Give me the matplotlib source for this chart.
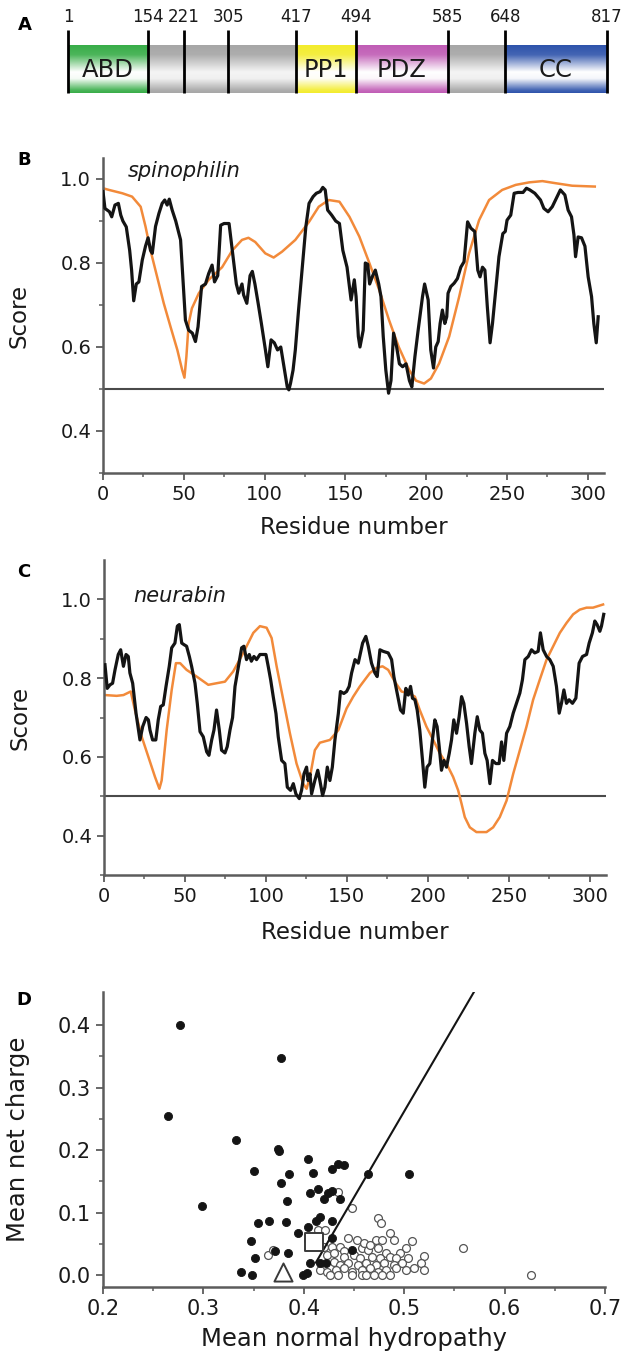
import numpy as np
import matplotlib
matplotlib.use("Agg")
import matplotlib.pyplot as plt
from matplotlib.colors import to_rgb

plt.rcParams['font.family'] = ['DejaVu Sans']

# ---------------- Panel A data ----------------
domain_numbers = ['1', '154', '221', '305', '417', '494', '585', '648', '817']
boundary_pos = [0.0, 0.148, 0.215, 0.297, 0.423, 0.534, 0.705, 0.811, 1.0]  # schematic
segment_labels = ['ABD', '', '', '', 'PP1', 'PDZ', '', 'CC']
segment_colors = ['#38ad48', '#a6a6a6', '#a6a6a6', '#a6a6a6',
                  '#f3ec2c', '#c05cb5', '#a6a6a6', '#2e53ab']

# ---------------- Panel B data (spinophilin) ----------------
spin_black_r = [0, 1.2, 4, 5.4, 7.4, 9.5, 11, 12.3, 14.4, 16.5, 17.7, 19, 20.6, 22.2, 24.3,
                26.3, 27.9, 29.4, 30.5, 32.5, 34.6, 36.6, 38.2, 39.7, 41, 42.8, 45, 48, 49.4,
                51, 53, 55.3, 57.2, 58.8, 61, 63.4, 65.4, 67.5, 69, 71, 72.8, 74.9, 78, 80,
                82.5, 84, 86, 87, 89, 91, 92.4, 94, 96, 98, 100.5, 102, 104, 106, 108, 110,
                112, 114, 115, 116, 117.6, 119, 121, 123.7, 125.5, 127.5, 130, 132, 134.4,
                136, 137.5, 139, 141.5, 144, 146.3, 148.4, 151, 153.5, 155.5, 156.6, 158,
                159, 161, 162.3, 163.8, 165, 166.9, 168.5, 170.6, 172, 173.4, 175, 176.7,
                178.2, 179.8, 181.7, 183.4, 185.4, 187.5, 189.6, 191.1, 193, 195, 197.7, 199,
                201.2, 202.8, 204.5, 205.9, 207.4, 208.6, 210, 211.5, 212.7, 213.5, 215.2,
                217.3, 219.3, 221.4, 223.4, 225.6, 227.6, 230, 231.9, 233.3, 234.8, 236.3,
                237.8, 239.5, 241, 243, 245, 247.4, 248.9, 250, 252.3, 254.4, 256.8, 259.9,
                262, 264.1, 267.2, 270.7, 272.8, 275.4, 278, 281, 283, 285.8, 287.8, 289.9,
                291.4, 292.4, 294, 296.1, 298.2, 300.2, 302.3, 303.7, 305.2, 306.4]
spin_black_v = [0.97, 0.93, 0.922, 0.91, 0.938, 0.942, 0.914, 0.90, 0.886, 0.83, 0.783, 0.71,
                0.75, 0.755, 0.807, 0.84, 0.86, 0.83, 0.823, 0.887, 0.918, 0.942, 0.95, 0.938,
                0.952, 0.926, 0.90, 0.855, 0.767, 0.664, 0.64, 0.633, 0.613, 0.648, 0.744,
                0.75, 0.775, 0.795, 0.755, 0.77, 0.89, 0.894, 0.894, 0.83, 0.75, 0.728, 0.75,
                0.724, 0.704, 0.77, 0.78, 0.75, 0.704, 0.656, 0.593, 0.553, 0.617, 0.61,
                0.593, 0.60, 0.553, 0.505, 0.498, 0.513, 0.545, 0.593, 0.688, 0.807, 0.886,
                0.942, 0.958, 0.966, 0.97, 0.98, 0.974, 0.926, 0.914, 0.90, 0.894, 0.83,
                0.79, 0.712, 0.76, 0.72, 0.625, 0.60, 0.64, 0.80, 0.797, 0.75, 0.77, 0.783,
                0.75, 0.72, 0.625, 0.545, 0.49, 0.52, 0.633, 0.60, 0.56, 0.553, 0.56, 0.52,
                0.505, 0.577, 0.64, 0.72, 0.75, 0.712, 0.593, 0.55, 0.60, 0.613, 0.656, 0.688,
                0.656, 0.672, 0.728, 0.744, 0.752, 0.763, 0.79, 0.803, 0.898, 0.883, 0.875,
                0.783, 0.767, 0.79, 0.783, 0.696, 0.61, 0.656, 0.736, 0.815, 0.87, 0.875,
                0.902, 0.914, 0.966, 0.968, 0.968, 0.978, 0.974, 0.966, 0.95, 0.93, 0.922,
                0.934, 0.958, 0.974, 0.962, 0.926, 0.91, 0.867, 0.815, 0.862, 0.86, 0.84,
                0.767, 0.72, 0.656, 0.61, 0.672]
spin_orange_r = [0, 3.7, 12, 18, 23.3, 26.3, 29.4, 33.5, 37.6, 41.8, 46, 49, 50.4, 51.6, 53,
                 55, 59.3, 65.4, 73.7, 80, 86, 90, 94.2, 100.4, 105.6, 110.8, 119, 127.5,
                 133.5, 139.7, 146.3, 152.5, 158.6, 164.8, 170.9, 177, 183, 189.5, 193.6,
                 198.7, 202.9, 208, 214.2, 220.4, 226.5, 232.7, 238.9, 247, 255.4, 263.7,
                 271.9, 280, 290.3, 304.3]
spin_orange_v = [0.978, 0.974, 0.966, 0.958, 0.934, 0.887, 0.83, 0.767, 0.704, 0.648, 0.593,
                 0.545, 0.527, 0.577, 0.656, 0.692, 0.728, 0.76, 0.79, 0.83, 0.855, 0.86,
                 0.85, 0.823, 0.813, 0.827, 0.855, 0.898, 0.934, 0.95, 0.946, 0.91, 0.863,
                 0.80, 0.736, 0.664, 0.60, 0.545, 0.52, 0.513, 0.525, 0.561, 0.625, 0.72,
                 0.823, 0.902, 0.95, 0.974, 0.986, 0.992, 0.995, 0.99, 0.984, 0.982]

# ---------------- Panel C data (neurabin) ----------------
neur_black_r = [0.6, 2, 3.7, 5.3, 6.8, 8.8, 10.3, 12, 13.6, 15, 16, 17.7, 19.8, 22.2, 23.9, 26,
                27.4, 28.4, 30, 32, 33.5, 35, 36.6, 38.3, 40.3, 41.8, 43.8, 45.3, 46.5, 48,
                49.4, 51, 52.7, 54.1, 56.2, 57.6, 59.3, 61.3, 63.4, 64.8, 66.5, 67.9, 69.5,
                71.2, 72.6, 74.7, 76.1, 77.8, 79.4, 80.9, 83, 85, 86.4, 88, 89.7, 91, 92.6,
                94.2, 96.3, 100, 101.4, 102.9, 104.5, 106.2, 107.6, 109.7, 111.7, 113.2,
                115.2, 116.9, 118.5, 120.6, 122, 123.5, 125.1, 126, 127.2, 128.2, 130.2, 132,
                133.3, 135, 136.4, 137.9, 139.5, 141, 142.6, 144.7, 146, 148.1, 149.8, 151.4,
                152.9, 155, 157, 159.7, 161.7, 163.2, 165.2, 167.3, 168.7, 170.4, 172.4,
                175.5, 177.6, 179, 181, 183.1, 184.8, 186.4, 187.9, 189.3, 190.5, 192, 193.4,
                195, 196.7, 198.1, 199.5, 201.2, 202.8, 204.3, 205.7, 207, 208.4, 209.9,
                211.5, 213.2, 214.6, 216, 217.7, 219.3, 220.8, 222.2, 223.9, 225.5, 226.9,
                229, 230.5, 232.1, 233.7, 235.2, 236.6, 238.3, 239.9, 242, 244, 245.5, 246.9,
                248.6, 250.6, 252.7, 254.7, 256.8, 258.4, 259.9, 262, 264, 266, 268.1, 269.5,
                271.2, 273.3, 275.3, 277.4, 279.4, 281.1, 282.5, 284, 285.6, 287.2, 289.3,
                291.4, 293.4, 295.5, 298, 299.6, 301.6, 303.1, 304.5, 306.2, 307.2, 308.6]
neur_black_v = [0.834, 0.774, 0.783, 0.787, 0.821, 0.86, 0.872, 0.83, 0.86, 0.855, 0.813,
                0.787, 0.71, 0.643, 0.677, 0.70, 0.694, 0.668, 0.643, 0.643, 0.694, 0.728,
                0.732, 0.779, 0.83, 0.877, 0.889, 0.932, 0.936, 0.889, 0.885, 0.881, 0.855,
                0.83, 0.787, 0.736, 0.664, 0.651, 0.613, 0.604, 0.643, 0.668, 0.719, 0.668,
                0.617, 0.61, 0.626, 0.668, 0.70, 0.779, 0.83, 0.877, 0.881, 0.847, 0.86,
                0.843, 0.855, 0.847, 0.86, 0.86, 0.83, 0.796, 0.753, 0.71, 0.651, 0.591,
                0.583, 0.523, 0.515, 0.532, 0.506, 0.494, 0.515, 0.557, 0.574, 0.54, 0.557,
                0.506, 0.54, 0.566, 0.54, 0.502, 0.523, 0.574, 0.54, 0.574, 0.643, 0.71,
                0.766, 0.761, 0.766, 0.779, 0.813, 0.847, 0.838, 0.889, 0.906, 0.881, 0.838,
                0.813, 0.804, 0.872, 0.868, 0.864, 0.847, 0.804, 0.762, 0.719, 0.711, 0.774,
                0.757, 0.779, 0.749, 0.745, 0.719, 0.668, 0.591, 0.523, 0.574, 0.583, 0.643,
                0.694, 0.677, 0.626, 0.566, 0.591, 0.574, 0.609, 0.643, 0.694, 0.66, 0.702,
                0.753, 0.736, 0.685, 0.626, 0.583, 0.66, 0.702, 0.668, 0.66, 0.609, 0.591,
                0.532, 0.591, 0.583, 0.583, 0.638, 0.591, 0.66, 0.677, 0.711, 0.736, 0.762,
                0.796, 0.847, 0.855, 0.872, 0.864, 0.868, 0.915, 0.872, 0.855, 0.847, 0.83,
                0.779, 0.711, 0.736, 0.77, 0.736, 0.745, 0.736, 0.749, 0.838, 0.855, 0.86,
                0.889, 0.915, 0.945, 0.936, 0.919, 0.932, 0.962]
neur_orange_r = [0.6, 7.8, 12, 16.5, 19.1, 23.3, 27.4, 31.5, 34.2, 35.6, 38.7, 41.8, 44.4, 47,
                 51, 57.2, 64.4, 69.5, 74.7, 79.8, 86, 92.2, 96.3, 100.4, 103.5, 106.6,
                 110.7, 114.8, 118.9, 123, 125.1, 127.2, 130.2, 133.3, 139.5, 144.7, 149.8,
                 153.9, 158, 164.2, 168.3, 172, 175.5, 179.6, 183.7, 187.9, 192, 195, 199.1,
                 203.3, 207.4, 211.5, 215.6, 218.7, 220.8, 222.8, 225.9, 230, 236.2, 240.3,
                 244.4, 248.6, 252.7, 256.8, 260.9, 265, 269.1, 273.3, 277.4, 281.5, 285.6,
                 289.7, 293.8, 298, 302, 308.2]
neur_orange_v = [0.757, 0.755, 0.757, 0.766, 0.719, 0.651, 0.60, 0.549, 0.519, 0.54, 0.668,
                 0.77, 0.838, 0.838, 0.821, 0.804, 0.783, 0.787, 0.791, 0.817, 0.864, 0.915,
                 0.932, 0.928, 0.902, 0.83, 0.745, 0.66, 0.583, 0.532, 0.519, 0.549, 0.617,
                 0.636, 0.643, 0.668, 0.723, 0.753, 0.779, 0.813, 0.826, 0.83, 0.821, 0.791,
                 0.766, 0.762, 0.753, 0.719, 0.677, 0.643, 0.609, 0.583, 0.549, 0.515, 0.481,
                 0.447, 0.421, 0.409, 0.409, 0.421, 0.447, 0.489, 0.557, 0.617, 0.677, 0.745,
                 0.796, 0.847, 0.881, 0.915, 0.94, 0.962, 0.974, 0.979, 0.979, 0.987]

# ---------------- Panel D data ----------------
filled_h = [0.277, 0.377, 0.265, 0.332, 0.374, 0.375, 0.299, 0.350, 0.4045, 0.3855, 0.4094,
            0.4284, 0.4345, 0.4396, 0.4644, 0.5048, 0.377, 0.4057, 0.4145, 0.4245, 0.4276,
            0.4205, 0.4356, 0.3837, 0.3545, 0.365, 0.3825, 0.4117, 0.4157, 0.4276, 0.3945,
            0.4037, 0.347, 0.3518, 0.3717, 0.3845, 0.4037, 0.4276, 0.337, 0.348, 0.3997,
            0.403, 0.4057, 0.4157, 0.4217, 0.4476]
filled_c = [0.400, 0.348, 0.254, 0.2155, 0.202, 0.199, 0.111, 0.167, 0.1856, 0.1615, 0.163,
            0.170, 0.178, 0.1765, 0.1615, 0.1615, 0.147, 0.131, 0.138, 0.131, 0.134,
            0.1214, 0.1214, 0.1187, 0.084, 0.087, 0.0845, 0.087, 0.0936, 0.087, 0.0668,
            0.0765, 0.055, 0.0278, 0.0385, 0.0348, 0.056, 0.0588, 0.0053, 0.0, 0.0,
            0.004, 0.0187, 0.0187, 0.0187, 0.040]
open_h = [0.3646, 0.3697, 0.4337, 0.4476, 0.4736, 0.4768, 0.4856, 0.5582, 0.6265,
          0.4145, 0.4216, 0.4436, 0.4528, 0.4716, 0.4776, 0.4896, 0.5075,
          0.4356, 0.4576, 0.4636, 0.4736, 0.4816, 0.5016, 0.5195,
          0.4197, 0.4276, 0.4396, 0.4596, 0.4656, 0.4955,
          0.4236, 0.4296, 0.4396, 0.4496, 0.4556, 0.4676, 0.4756, 0.4856, 0.4915, 0.5036,
          0.4296, 0.4356, 0.4436, 0.4536, 0.4616, 0.4716, 0.4796, 0.4896, 0.4975, 0.517,
          0.4157, 0.4236, 0.4316, 0.4396, 0.4476, 0.4576, 0.4656, 0.4736, 0.4816, 0.4915,
          0.5016, 0.5095, 0.5195,
          0.4256, 0.4337, 0.4476, 0.4576, 0.4616, 0.4696, 0.4776, 0.4856]
open_c = [0.033, 0.041, 0.133, 0.107, 0.091, 0.083, 0.068, 0.0438, 0.0,
          0.072, 0.072, 0.060, 0.056, 0.056, 0.056, 0.056, 0.055,
          0.0455, 0.0428, 0.040, 0.0428, 0.0348, 0.0428, 0.031,
          0.0455, 0.0455, 0.038, 0.0508, 0.048, 0.0348,
          0.032, 0.0348, 0.0294, 0.032, 0.0267, 0.0294, 0.0267, 0.0294, 0.0267, 0.0267,
          0.0214, 0.016, 0.0187, 0.016, 0.0187, 0.016, 0.0187, 0.016, 0.0187, 0.0187,
          0.008, 0.0053, 0.008, 0.0107, 0.0053, 0.008, 0.0107, 0.0053, 0.008, 0.0107,
          0.008, 0.0107, 0.009,
          0.0, 0.0, 0.0, 0.0, 0.0, 0.0, 0.0, 0.0]
square_pt = (0.4097, 0.0524)
triangle_pt = (0.379, 0.005)
boundary_h = [0.412, 0.572]
boundary_c = [0.020, 0.460]

# ---------------- Figure ----------------
W, H = 623, 1357
fig = plt.figure(figsize=(W / 100, H / 100), dpi=100)


def frac(left, top, right, bottom):
    return [left / W, 1 - bottom / H, (right - left) / W, (bottom - top) / H]


SPINE = '#5c5c5c'
BLACK = '#141414'
ORANGE = '#f28a3a'

# ---- Panel A ----
axA = fig.add_axes(frac(68, 30, 607, 93))
axA.set_xlim(0, 1)
axA.set_ylim(0, 1)
axA.axis('off')
bar_top = 0.76
t = np.linspace(0, 1, 200)
w = np.interp(t, [0, 0.06, 0.3, 0.44, 0.8, 1.0], [1, 0.9, 0.05, 0.0, 0.9, 1.0])
for i, col in enumerate(segment_colors):
    base = np.array(to_rgb(col))
    light = np.array(to_rgb('#f4f4f4')) if col == '#a6a6a6' else np.ones(3)
    grad = (w[:, None] * base[None, :] + (1 - w[:, None]) * light[None, :])[:, None, :]
    axA.imshow(grad, extent=(boundary_pos[i], boundary_pos[i + 1], 0, bar_top),
               origin='lower', aspect='auto', interpolation='bilinear')
    if segment_labels[i]:
        axA.text((boundary_pos[i] + boundary_pos[i + 1]) / 2, 0.36, segment_labels[i],
                 ha='center', va='center', fontsize=17.5, color='#1a1a1a')
axA.vlines(boundary_pos, 0, 1, colors='black', lw=2, clip_on=False)
for p, lab in zip(boundary_pos, domain_numbers):
    axA.text(p, 1.06, lab, ha='center', va='bottom', fontsize=12, color='#1a1a1a')
axA.set_xlim(0, 1)
axA.set_ylim(0, 1)
fig.text(25 / W, 1 - 25 / H, 'A', fontsize=13, fontweight='bold', ha='center', va='center')


def style_axes(ax, tick_fs):
    for s in ['top', 'right']:
        ax.spines[s].set_visible(False)
    for s in ['left', 'bottom']:
        ax.spines[s].set_color(SPINE)
        ax.spines[s].set_linewidth(1.8)
    ax.tick_params(which='major', length=5, width=1.3, color=SPINE, labelsize=tick_fs,
                   labelcolor='#1a1a1a')
    ax.tick_params(which='minor', length=3, width=1.1, color=SPINE)


# ---- Panel B ----
axB = fig.add_axes(frac(103, 158, 604, 473))
axB.plot(spin_orange_r, spin_orange_v, color=ORANGE, lw=1.8, zorder=2)
axB.plot(spin_black_r, spin_black_v, color=BLACK, lw=2.3, zorder=3)
axB.axhline(0.5, color='#4a4a4a', lw=1.5, zorder=1)
axB.set_xlim(0, 310)
axB.set_ylim(0.3, 1.05)
axB.set_xticks(range(0, 301, 50))
axB.set_xticks(range(25, 301, 50), minor=True)
axB.set_yticks([0.4, 0.6, 0.8, 1.0])
axB.set_yticks([0.3, 0.5, 0.7, 0.9], minor=True)
axB.set_yticklabels(['0.4', '0.6', '0.8', '1.0'])
style_axes(axB, 14)
axB.set_xlabel('Residue number', fontsize=16.5, color='#1a1a1a', labelpad=9)
axB.set_ylabel('Score', fontsize=16.5, color='#1a1a1a')
axB.yaxis.set_label_coords(-0.145, 0.5)
axB.text(15.5, 1.02, 'spinophilin', fontsize=15, style='italic', va='center', color='#1a1a1a')
fig.text(24 / W, 1 - 160 / H, 'B', fontsize=13, fontweight='bold', ha='center', va='center')

# ---- Panel C ----
axC = fig.add_axes(frac(104, 560, 606, 875))
axC.plot(neur_orange_r, neur_orange_v, color=ORANGE, lw=1.8, zorder=2)
axC.plot(neur_black_r, neur_black_v, color=BLACK, lw=2.3, zorder=3)
axC.axhline(0.5, color='#4a4a4a', lw=1.5, zorder=1)
axC.set_xlim(0, 310)
axC.set_ylim(0.3, 1.1)
axC.set_xticks(range(0, 301, 50))
axC.set_xticks(range(25, 301, 50), minor=True)
axC.set_yticks([0.4, 0.6, 0.8, 1.0])
axC.set_yticks([0.3, 0.5, 0.7, 0.9], minor=True)
axC.set_yticklabels(['0.4', '0.6', '0.8', '1.0'])
style_axes(axC, 14)
axC.set_xlabel('Residue number', fontsize=16.5, color='#1a1a1a', labelpad=11)
axC.set_ylabel('Score', fontsize=16.5, color='#1a1a1a')
axC.yaxis.set_label_coords(-0.145, 0.5)
axC.text(18, 1.008, 'neurabin', fontsize=15, style='italic', va='center', color='#1a1a1a')
fig.text(24 / W, 1 - 572 / H, 'C', fontsize=13, fontweight='bold', ha='center', va='center')

# ---- Panel D ----
axD = fig.add_axes(frac(103, 992, 605, 1287))
axD.scatter(open_h, open_c, s=32, facecolors='white', edgecolors='#555555',
            linewidths=0.9, zorder=2)
axD.scatter(filled_h, filled_c, s=34, facecolors=BLACK, edgecolors=BLACK,
            linewidths=0.6, zorder=3)
axD.plot(boundary_h, boundary_c, color=BLACK, lw=1.5, zorder=4)
axD.scatter([square_pt[0]], [square_pt[1]], marker='s', s=150, facecolors='white',
            edgecolors='#3a3a3a', linewidths=1.4, zorder=5)
axD.scatter([triangle_pt[0]], [triangle_pt[1]], marker='^', s=170, facecolors='white',
            edgecolors='#3a3a3a', linewidths=1.4, zorder=5)
axD.set_xlim(0.2, 0.7)
axD.set_ylim(-0.019, 0.453)
axD.set_xticks([0.2, 0.3, 0.4, 0.5, 0.6, 0.7])
axD.set_xticklabels(['0.2', '0.3', '0.4', '0.5', '0.6', '0.7'])
axD.set_xticks([0.25, 0.35, 0.45, 0.55, 0.65], minor=True)
axD.set_yticks([0.0, 0.1, 0.2, 0.3, 0.4])
axD.set_yticklabels(['0.0', '0.1', '0.2', '0.3', '0.4'])
axD.set_yticks([0.05, 0.15, 0.25, 0.35], minor=True)
style_axes(axD, 15)
axD.set_xlabel('Mean normal hydropathy', fontsize=17.5, color='#1a1a1a', labelpad=6)
axD.set_ylabel('Mean net charge', fontsize=17.5, color='#1a1a1a')
axD.yaxis.set_label_coords(-0.145, 0.5)
fig.text(24 / W, 1 - 1000 / H, 'D', fontsize=13, fontweight='bold', ha='center', va='center')

fig.savefig('out.png', dpi=100)
